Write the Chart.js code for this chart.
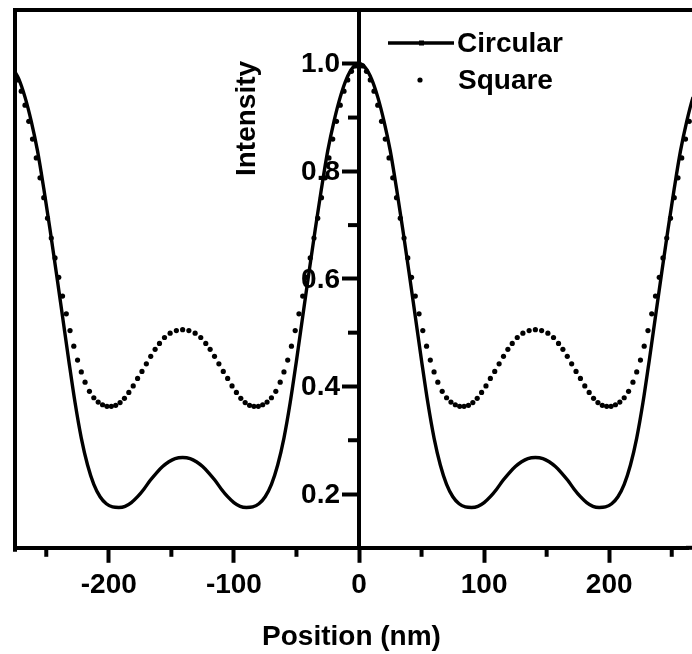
<!DOCTYPE html>
<html>
<head>
<meta charset="utf-8">
<script src="https://cdn.jsdelivr.net/npm/chart.js@4.4.1/dist/chart.umd.min.js"></script>
<style>
  html, body { margin: 0; padding: 0; background: #fff; overflow: hidden; }
  #wrap { width: 692px; height: 654px; position: relative; }
</style>
</head>
<body>
<div id="wrap"><canvas id="chart" width="692" height="654"></canvas></div>
<script>
// Circular aperture profile (solid line)
const circularX = [
  -275, -272, -267, -262, -257, -252, -247, -242, -237, -232, -227, -222, -217, -212, -207, -202,
  -197, -192, -187, -182, -177, -172, -167, -162, -157, -152, -147, -141, -135, -130, -125, -120,
  -115, -110, -105, -100, -95, -90, -85, -80, -75, -70, -65, -60, -55, -50, -45, -40, -35, -30,
  -25, -20, -15, -10, -5, 0, 5, 10, 15, 20, 25, 30, 35, 40, 45, 50, 55, 60, 65, 70, 75, 80, 85,
  90, 95, 100, 105, 110, 115, 120, 125, 130, 135, 141, 147, 152, 157, 162, 167, 172, 177, 182,
  187, 192, 197, 202, 207, 212, 217, 222, 227, 232, 237, 242, 247, 252, 257, 262, 267, 272, 277
];
const circularY = [
  0.985, 0.972, 0.938, 0.893, 0.838, 0.768, 0.692, 0.612, 0.530, 0.448, 0.370, 0.304, 0.254, 0.218, 0.195, 0.182,
  0.176, 0.175, 0.177, 0.184, 0.195, 0.209, 0.225, 0.239, 0.251, 0.260, 0.266, 0.268, 0.266, 0.260, 0.251, 0.239,
  0.225, 0.209, 0.195, 0.184, 0.177, 0.175, 0.176, 0.182, 0.195, 0.218, 0.254, 0.304, 0.370, 0.448, 0.530, 0.612, 0.692, 0.768,
  0.838, 0.893, 0.938, 0.972, 0.993, 1.000, 0.993, 0.972, 0.938, 0.893, 0.838, 0.768, 0.692, 0.612, 0.530, 0.448, 0.370, 0.304, 0.254, 0.218, 0.195, 0.182, 0.176,
  0.175, 0.177, 0.184, 0.195, 0.209, 0.225, 0.239, 0.251, 0.260, 0.266, 0.268, 0.266, 0.260, 0.251, 0.239, 0.225, 0.209, 0.195, 0.184,
  0.177, 0.175, 0.176, 0.182, 0.195, 0.218, 0.254, 0.304, 0.370, 0.448, 0.530, 0.612, 0.692, 0.768, 0.838, 0.893, 0.938, 0.972, 0.993
];

// Square aperture profile (dots)
const squareX = [
  -273, -270, -267, -264, -261, -258, -255, -252, -249, -246, -243, -240, -237, -234, -231, -228, -225, -222, -219,
  -215.5, -212, -208.5, -205, -201.5, -198, -194.5, -191, -187.5, -184, -180.5, -177, -173.5, -170, -166.5, -163,
  -159.5, -155.5, -151, -146,
  -141, -136, -131, -126.5, -122.5, -119, -115.5, -112, -108.5, -105, -101.5, -98, -94.5, -91, -87.5, -84, -80.5,
  -77, -73.5, -70, -66.5, -63, -60, -57, -54, -51, -48, -45, -42, -39, -36, -33, -30, -27, -24, -21, -18, -15,
  -12, -9, -6, -3,
  0, 3, 6, 9, 12, 15, 18, 21, 24, 27, 30, 33, 36, 39, 42, 45, 48, 51, 54, 57, 60, 63,
  66.5, 70, 73.5, 77, 80.5, 84, 87.5, 91, 94.5, 98, 101.5, 105, 108.5, 112, 115.5, 119, 122.5, 126.5, 131, 136, 141,
  146, 151, 155.5, 159.5, 163, 166.5, 170, 173.5, 177, 180.5, 184, 187.5, 191, 194.5, 198, 201.5, 205, 208.5, 212,
  215.5, 219, 222, 225, 228, 231, 234, 237, 240, 243, 246, 249, 252, 255, 258, 261, 264, 267
];
const squareY = [
  0.970, 0.949, 0.923, 0.893, 0.860, 0.825, 0.788, 0.751, 0.713, 0.676, 0.639, 0.603, 0.568, 0.535, 0.504, 0.475, 0.449, 0.427, 0.408,
  0.391, 0.379, 0.371, 0.366, 0.363, 0.363, 0.365, 0.370, 0.378, 0.389, 0.401, 0.415, 0.428, 0.442, 0.456, 0.469,
  0.480, 0.491, 0.499, 0.504,
  0.5055, 0.504, 0.499, 0.491, 0.480, 0.469, 0.456, 0.442, 0.428, 0.415, 0.401, 0.389, 0.378, 0.370, 0.365, 0.363, 0.363,
  0.366, 0.371, 0.379, 0.391, 0.408, 0.427, 0.449, 0.475, 0.504, 0.535, 0.568, 0.603, 0.639, 0.676, 0.713, 0.751, 0.788, 0.825, 0.860, 0.893, 0.923,
  0.949, 0.970, 0.986, 0.996,
  1.000, 0.996, 0.986, 0.970, 0.949, 0.923, 0.893, 0.860, 0.825, 0.788, 0.751, 0.713, 0.676, 0.639, 0.603, 0.568, 0.535, 0.504, 0.475, 0.449, 0.427, 0.408,
  0.391, 0.379, 0.371, 0.366, 0.363, 0.363, 0.365, 0.370, 0.378, 0.389, 0.401, 0.415, 0.428, 0.442, 0.456, 0.469, 0.480, 0.491, 0.499, 0.504, 0.5055,
  0.504, 0.499, 0.491, 0.480, 0.469, 0.456, 0.442, 0.428, 0.415, 0.401, 0.389, 0.378, 0.370, 0.365, 0.363, 0.363, 0.366, 0.371, 0.379,
  0.391, 0.408, 0.427, 0.449, 0.475, 0.504, 0.535, 0.568, 0.603, 0.639, 0.676, 0.713, 0.751, 0.788, 0.825, 0.860, 0.893, 0.923
];

const seriesNames = ['Circular', 'Square'];
const xTitle = 'Position (nm)';
const yTitle = 'Intensity';
const xMajorTicks = [-200, -100, 0, 100, 200];
const xMinorTicks = [-250, -150, -50, 50, 150, 250];
const yMajorTicks = [0.2, 0.4, 0.6, 0.8, 1.0];
const yMinorTicks = [0.3, 0.5, 0.7, 0.9];

const FONT_FAMILY = '"Liberation Sans", Arial, Helvetica, sans-serif';
const boldFont = size => ({ family: FONT_FAMILY, size: size, weight: 'bold', lineHeight: 1.2 });
const INK = '#000';
const AXIS_W = 4;
const Y_TICK_LEN = 15;

const toPoints = (xs, ys) => xs.map((x, i) => ({ x: x, y: ys[i] }));

// Frame edges, minor ticks, y tick labels, the rotated y title and the legend
const decorations = {
  id: 'decorations',
  afterDraw(chart) {
    const { ctx, chartArea: a, scales } = chart;
    const xs = scales.x, ys = scales.y;
    ctx.save();
    ctx.strokeStyle = INK;
    ctx.fillStyle = INK;
    ctx.lineWidth = AXIS_W;
    ctx.lineCap = 'butt';

    // frame: left edge, top edge, and the bottom axis carried to the canvas edge
    ctx.beginPath();
    ctx.moveTo(a.left, a.bottom + AXIS_W);
    ctx.lineTo(a.left, a.top);
    ctx.lineTo(chart.width, a.top);
    ctx.stroke();
    ctx.beginPath();
    ctx.moveTo(a.right - 2, a.bottom);
    ctx.lineTo(chart.width, a.bottom);
    ctx.stroke();

    // minor ticks on the bottom axis
    const xAxisEdge = a.bottom + AXIS_W / 2;
    xMinorTicks.forEach(v => {
      const px = xs.getPixelForValue(v);
      ctx.beginPath();
      ctx.moveTo(px, xAxisEdge);
      ctx.lineTo(px, xAxisEdge + 7);
      ctx.stroke();
    });

    // minor ticks on the central y axis
    const yAxisEdge = xs.getPixelForValue(0) - AXIS_W / 2;
    yMinorTicks.forEach(v => {
      const py = ys.getPixelForValue(v);
      ctx.beginPath();
      ctx.moveTo(yAxisEdge, py);
      ctx.lineTo(yAxisEdge - 9, py);
      ctx.stroke();
    });

    // y tick labels, left of the major ticks
    ctx.font = 'bold 28px ' + FONT_FAMILY;
    ctx.textAlign = 'right';
    ctx.textBaseline = 'middle';
    yMajorTicks.forEach(v => {
      ctx.fillText(v.toFixed(1), yAxisEdge - Y_TICK_LEN - 2, ys.getPixelForValue(v) + 1);
    });

    // y axis title, reading bottom to top
    ctx.save();
    ctx.translate(255, 118.5);
    ctx.rotate(-Math.PI / 2);
    ctx.textAlign = 'center';
    ctx.textBaseline = 'alphabetic';
    ctx.fillText(yTitle, 0, 0);
    ctx.restore();

    // legend
    const line = chart.data.datasets[0];
    const dots = chart.data.datasets[1];
    ctx.textAlign = 'left';
    ctx.textBaseline = 'alphabetic';
    ctx.lineWidth = line.borderWidth;
    ctx.strokeStyle = line.borderColor;
    ctx.beginPath();
    ctx.moveTo(388, 43);
    ctx.lineTo(454, 43);
    ctx.stroke();
    ctx.fillRect(419, 40.5, 5, 5);
    ctx.fillText(seriesNames[0], 457, 52);

    ctx.fillStyle = dots.pointBackgroundColor;
    ctx.beginPath();
    ctx.arc(420, 80, dots.pointRadius, 0, Math.PI * 2);
    ctx.fill();
    ctx.fillStyle = INK;
    ctx.fillText(seriesNames[1], 458, 88.5);
    ctx.restore();
  }
};

new Chart(document.getElementById('chart').getContext('2d'), {
  type: 'scatter',
  data: {
    datasets: [
      {
        label: seriesNames[0],
        data: toPoints(circularX, circularY),
        showLine: true,
        borderColor: INK,
        borderWidth: 3.4,
        pointRadius: 0,
        cubicInterpolationMode: 'monotone',
        fill: false,
        clip: false
      },
      {
        label: seriesNames[1],
        data: toPoints(squareX, squareY),
        showLine: false,
        pointRadius: 2.6,
        pointBackgroundColor: INK,
        pointBorderWidth: 0,
        borderColor: INK,
        clip: false
      }
    ]
  },
  options: {
    responsive: false,
    animation: false,
    devicePixelRatio: 1,
    layout: { padding: { left: 15, right: 0, top: 10, bottom: 0 } },
    plugins: { legend: { display: false }, tooltip: { enabled: false } },
    scales: {
      x: {
        type: 'linear',
        position: 'bottom',
        min: -275,
        max: 263,
        afterBuildTicks: s => { s.ticks = xMajorTicks.map(v => ({ value: v })); },
        grid: { drawOnChartArea: false, drawTicks: true, tickLength: 15, tickWidth: AXIS_W, tickColor: INK },
        border: { display: true, width: AXIS_W, color: INK },
        ticks: { font: boldFont(28), color: INK, padding: 6, maxRotation: 0, autoSkip: false,
                 callback: v => String(v) },
        title: { display: true, text: xTitle, font: boldFont(28), color: INK, padding: { top: 12, bottom: 0 } }
      },
      y: {
        type: 'linear',
        position: { x: 0 },
        min: 0.1,
        max: 1.1,
        afterBuildTicks: s => { s.ticks = yMajorTicks.map(v => ({ value: v })); },
        grid: { drawOnChartArea: false, drawTicks: true, tickLength: Y_TICK_LEN, tickWidth: AXIS_W, tickColor: INK },
        border: { display: true, width: AXIS_W, color: INK },
        ticks: { display: false }
      }
    }
  },
  plugins: [decorations]
});
</script>
</body>
</html>
